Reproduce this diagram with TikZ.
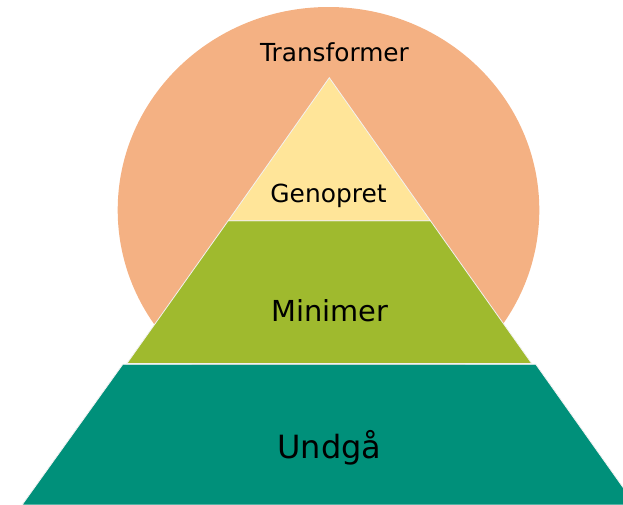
\documentclass[tikz,border=0pt]{standalone}
\usepackage{fontspec}
\setmainfont{DejaVu Sans}
\definecolor{peach}{HTML}{F4B183}
\definecolor{lyellow}{HTML}{FFE599}
\definecolor{lgreen}{HTML}{9FBA2E}
\definecolor{teal}{HTML}{00907A}
\begin{document}
\begin{tikzpicture}[x=1pt,y=-1pt,
  layer/.style={draw=white!90!gray,line width=0.8pt,line join=miter},
  lbl/.style={anchor=base,inner sep=0pt,text=black}]
\useasboundingbox (0,0) rectangle (623,504);
\clip (0,0) rectangle (623,504);
% circle
\fill[peach] (328.5,210) ellipse [x radius=210.8, y radius=203];
% layers
\path[layer,fill=teal] (122.8,364.3) -- (535.8,364.3) -- (635.5,505) -- (22,505) -- cycle;
\path[layer,fill=lgreen] (228.2,220.7) -- (430.4,220.7) -- (531.8,363.6) -- (126.8,363.6) -- cycle;
\path[layer,fill=lyellow] (329.3,77.7) -- (430.4,220.7) -- (228.2,220.7) -- cycle;
% labels
\node[lbl,font=\fontsize{24.8}{28}\selectfont] (t) at (334.5,61) {Transformer};
\node[lbl,font=\fontsize{24.9}{28}\selectfont] (g) at (328.5,202) {Genopret};
\node[lbl,font=\fontsize{28.9}{33}\selectfont] (m) at (330,321) {Minimer};
\node[lbl,font=\fontsize{32}{36}\selectfont] (u) at (329.5,458) {Undgå};
\end{tikzpicture}
\end{document}
